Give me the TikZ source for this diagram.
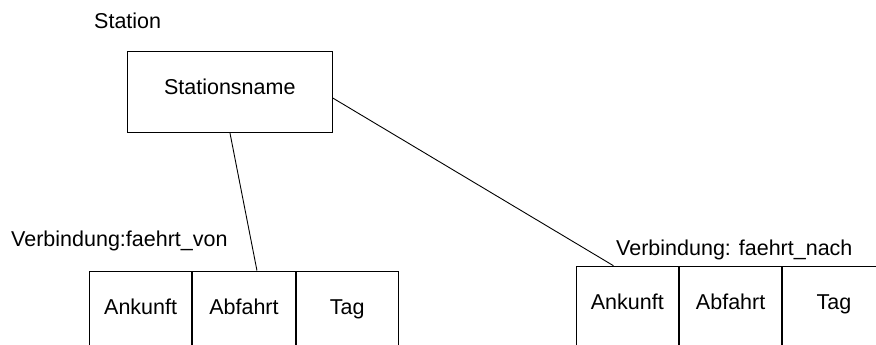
\documentclass[tikz,border=0pt]{standalone}
\usepackage{fontspec}
\setmainfont{Liberation Sans}
\usetikzlibrary{calc}
\begin{document}
\begin{tikzpicture}[x=1pt,y=-1pt,
  every node/.style={font=\fontsize{21.5}{25}\selectfont, inner sep=0pt},
  line/.style={draw=black, line width=0.9pt},
  cell/.style={line, anchor=north west, minimum width=102.4pt, minimum height=80pt, text height=0.72em, text depth=0.04em},
  entity/.style={line, minimum width=205pt, minimum height=81pt, text height=0.72em, text depth=0.196em},
  lbl/.style={anchor=base west}]
\useasboundingbox (0,0) rectangle (876,345);
\clip (0,0) rectangle (876,345);
\node[lbl] (station) at (94,28.3) {Station};
\node[entity] (sn) at (229.8,92.2) {Stationsname};
% left table
\node[lbl] (vvon) at (11,246.7) {Verbindung:faehrt\_von};
\node[cell] (l1) at (89,270.5) {Ankunft};
\node[cell] (l2) at (l1.north east) {Abfahrt};
\node[cell] (l3) at (l2.north east) {Tag};
% right table
\node[lbl] (vnach) at (616,255) {Verbindung: faehrt\_nach};
\node[cell] (r1) at (575.7,265.7) {Ankunft};
\node[cell] (r2) at (r1.north east) {Abfahrt};
\node[cell] (r3) at (r2.north east) {Tag};
% connectors
\draw[line] ($(sn.south)+(0.2,0)$) -- ($(l2.north)+(13,0)$);
\draw[line] ($(sn.east)+(0,5.8)$) -- ($(r1.north)+(-13.9,0)$);
\end{tikzpicture}
\end{document}
